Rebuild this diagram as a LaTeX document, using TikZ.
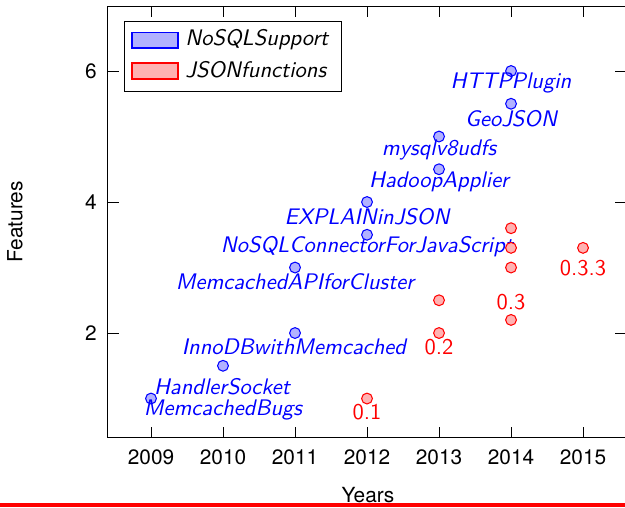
\documentclass[tikz,border=0pt]{standalone}
\usepackage{fontspec}
\newfontfamily\helv{TeX Gyre Heros}
\usetikzlibrary{positioning}

\begin{document}
\begin{tikzpicture}[x=34.56pt,y=31.44pt,
  nosql/.style={circle,draw=blue,fill=blue!30,inner sep=0pt,minimum size=5.2pt,line width=0.5pt},
  json/.style={circle,draw=red,fill=red!30,inner sep=0pt,minimum size=5.2pt,line width=0.5pt},
  nosqllbl/.style={text=blue,font=\fontsize{10.8}{13}\sffamily\itshape,inner sep=0pt},
  jsonlbl/.style={text=red,font=\fontsize{10.8}{13}\sffamily,inner sep=0pt},
  ticklbl/.style={font=\helv,inner sep=0pt}]
\useasboundingbox (6.903,-0.656) rectangle (15.583,7.084);
% axis box, x = year-2000, y = features
\draw[line width=0.4pt] (8.4,0.41) rectangle (15.6,6.98);
\foreach \yr in {9,...,15}{
  \pgfmathtruncatemacro\full{2000+\yr}
  \draw[line width=0.4pt] (\yr,0.41) -- ++(0,0.16);
  \draw[line width=0.4pt] (\yr,6.98) -- ++(0,-0.16);
  \node[ticklbl] (yr\yr) at (\yr,0.107) {\full};
}
\foreach \v in {2,4,6}{
  \draw[line width=0.4pt] (8.4,\v) -- ++(0.16,0);
  \draw[line width=0.4pt] (15.6,\v) -- ++(-0.16,0);
  \node[ticklbl] (ft\v) at (8.167,\v) {\v};
}
\node[ticklbl,rotate=90] (ylab) at (7.111,3.695) {Features};
\node[ticklbl] (xlab) at (12.014,-0.473) {Years};
% legend
\draw[line width=0.4pt] (8.625,5.695) rectangle (11.639,6.763);
\draw[blue,fill=blue!30,line width=0.5pt] (8.736,6.351) rectangle (9.375,6.595);
\draw[red,fill=red!30,line width=0.5pt] (8.736,5.878) rectangle (9.375,6.122);
\node[anchor=west,font=\fontsize{10.8}{13}\sffamily\itshape,inner sep=0pt] (leg1) at (9.472,6.473) {NoSQLSupport};
\node[anchor=west,font=\fontsize{10.8}{13}\sffamily\itshape,inner sep=0pt] (leg2) at (9.472,6.015) {JSONfunctions};
% NoSQL support
\node[nosql] (bugs) at (9,1) {};
\node[nosql] (hsock) at (10,1.5) {};
\node[nosql] (inno) at (11,2) {};
\node[nosql] (cluster) at (11,3) {};
\node[nosql] (jsconn) at (12,3.5) {};
\node[nosql] (explain) at (12,4) {};
\node[nosql] (hadoop) at (13,4.5) {};
\node[nosql] (udfs) at (13,5) {};
\node[nosql] (geo) at (14,5.5) {};
\node[nosql] (http) at (14,6) {};
\node[nosqllbl] (bugs-l) at (10,0.824) {MemcachedBugs};
\node[nosqllbl] (hsock-l) at (9.986,1.176) {HandlerSocket};
\node[nosqllbl] (inno-l) at (10.986,1.786) {InnoDBwithMemcached};
\node[nosqllbl] (cluster-l) at (11,2.779) {MemcachedAPIforCluster};
\node[nosqllbl] (jsconn-l) at (12,3.313) {NoSQLConnectorForJavaScript};
\node[nosqllbl] (explain-l) at (12,3.771) {EXPLAINinJSON};
\node[nosqllbl] (hadoop-l) at (13,4.305) {HadoopApplier};
\node[nosqllbl] (udfs-l) at (13,4.794) {mysqlv8udfs};
\node[nosqllbl] (geo-l) at (14,5.267) {GeoJSON};
\node[nosqllbl] (http-l) at (14,5.817) {HTTPPlugin};
% JSON functions
\node[json] (j1) at (12,1) {};
\node[json] (j2) at (13,2) {};
\node[json] (j2b) at (13,2.5) {};
\node[json] (j3a) at (14,2.2) {};
\node[json] (j3b) at (14,3) {};
\node[json] (j3c) at (14,3.3) {};
\node[json] (j3d) at (14,3.6) {};
\node[json] (j33) at (15,3.3) {};
\node[jsonlbl] (j1-l) at (12,0.794) {0.1};
\node[jsonlbl] (j2-l) at (13,1.786) {0.2};
\node[jsonlbl] (j3-l) at (14,2.473) {0.3};
\node[jsonlbl] (j33-l) at (15,2.992) {0.3.3};
% red rule at the bottom
\fill[red] (6.903,-0.656) rectangle (15.583,-0.595);
\end{tikzpicture}
\end{document}
